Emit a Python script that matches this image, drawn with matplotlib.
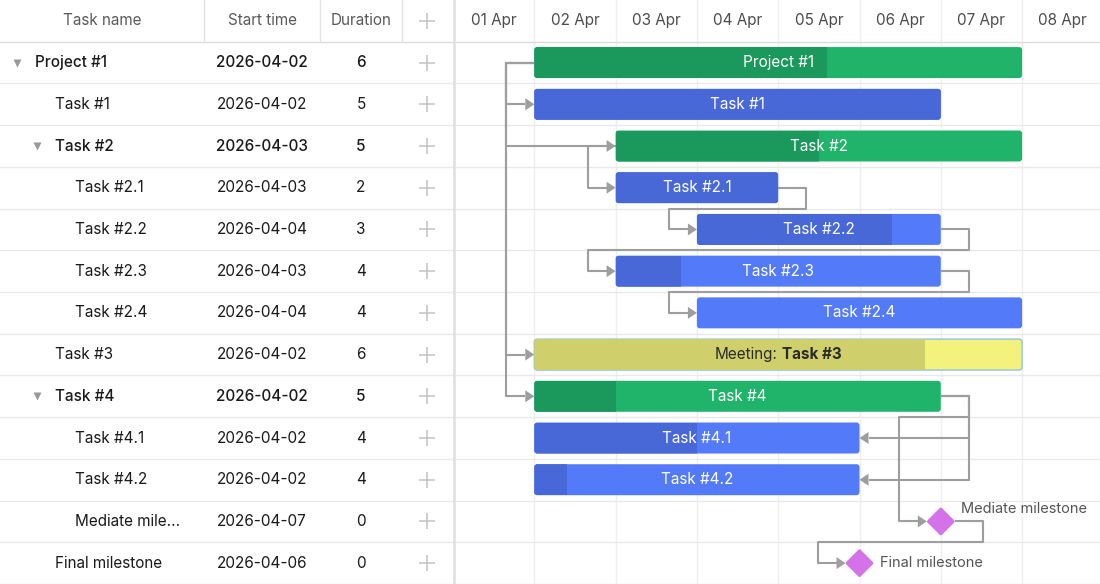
import numpy as np
import matplotlib.pyplot as plt
from matplotlib.patches import FancyBboxPatch, Polygon, Rectangle
from matplotlib.offsetbox import TextArea, HPacker, AnnotationBbox

plt.rcParams['font.family'] = ['Inter', 'DejaVu Sans']

# datos da tabela / gantt
task_names = ['Project #1', 'Task #1', 'Task #2', 'Task #2.1', 'Task #2.2', 'Task #2.3',
              'Task #2.4', 'Task #3', 'Task #4', 'Task #4.1', 'Task #4.2',
              'Mediate milestone', 'Final milestone']
levels = [0, 1, 1, 2, 2, 2, 2, 1, 1, 2, 2, 2, 1]
start_dates = ['2026-04-02', '2026-04-02', '2026-04-03', '2026-04-03', '2026-04-04',
               '2026-04-03', '2026-04-04', '2026-04-02', '2026-04-02', '2026-04-02',
               '2026-04-02', '2026-04-07', '2026-04-06']
durations = [6, 5, 5, 2, 3, 4, 4, 6, 5, 4, 4, 0, 0]
progress = [0.6, 1.0, 0.5, 1.0, 0.8, 0.2, 0.0, 0.8, 0.2, 0.5, 0.1, 0.0, 0.0]
task_types = ['project', 'task', 'project', 'task', 'task', 'task', 'task',
              'meeting', 'project', 'task', 'task', 'milestone', 'milestone']
# (origem, destino, tipo)  ss = start-start, fs = finish-start, ff = finish-finish
links = [(0, 1, 'ss'), (0, 2, 'ss'), (0, 7, 'ss'), (0, 8, 'ss'), (2, 3, 'ss'),
         (3, 4, 'fs'), (4, 5, 'fs'), (5, 6, 'fs'),
         (8, 9, 'ff'), (8, 10, 'ff'), (8, 11, 'fs'), (11, 12, 'fs')]
day_labels = ['01 Apr', '02 Apr', '03 Apr', '04 Apr', '05 Apr', '06 Apr', '07 Apr', '08 Apr']
grid_columns = ['Task name', 'Start time', 'Duration', '+']

# cores
cores = {'project': ('#20b46b', '#1b985b'),
         'task': ('#537bf9', '#4768d6'),
         'meeting': ('#f2f27c', '#cfd06c')}
cor_link = '#9e9e9e'
cor_grade = '#e9e9e9'
cor_milestone = '#d472ea'
cor_mais = '#c2c2c2'

W, H = 1100, 584
GRID_W = 453
n_rows = len(task_names)
day_px = 81.3
px_x = 1 / day_px            # dias por pixel
px_y = (n_rows + 1) / H      # linhas por pixel

fig = plt.figure(figsize=(W / 100, H / 100), dpi=100)
ax_g = fig.add_axes([0, 0, GRID_W / W, 1])
ax_t = fig.add_axes([GRID_W / W, 0, 1 - GRID_W / W, 1])
ax_g.set_xlim(0, GRID_W)
ax_t.set_xlim(0, (W - GRID_W) / day_px)
for a in (ax_g, ax_t):
    a.set_ylim(n_rows, -1)
    a.axis('off')

origem = np.datetime64('2026-04-01')
x0 = (np.array(start_dates, dtype='datetime64[D]') - origem).astype(float)
dur = np.array(durations, dtype=float)

# ---------------- grade / linhas ----------------
for r in range(n_rows + 1):
    ax_g.axhline(r, color='#dcdcdc' if r == 0 else cor_grade, lw=1, zorder=1)
    ax_t.axhline(r, color='#dcdcdc' if r == 0 else cor_grade, lw=1, zorder=1)
for d in range(1, len(day_labels)):
    ax_t.axvline(d, color='#efefef', lw=1, zorder=0)
ax_t.axvline(0.01, color='#e2e2e2', lw=2, zorder=1)

# cabeçalho da tabela
col_centros = [102, 262, 361, 427]
for xb in [204, 320, 402]:
    ax_g.plot([xb, xb], [-1, 0], color='#e2e2e2', lw=1)
for c, txt in zip(col_centros, grid_columns):
    if txt == '+':
        ax_g.plot(c, -0.5, marker='+', ms=12, mew=1.1, color=cor_mais)
    else:
        ax_g.text(c, -0.5, txt, ha='center', va='center', fontsize=11, color='#5a5a5a')

# cabeçalho das datas
for d, lab in enumerate(day_labels):
    ax_t.text(d + 0.5, -0.5, lab, ha='center', va='center', fontsize=11, color='#4d4d4d')

# linhas da tabela
for i, nome in enumerate(task_names):
    y = i + 0.5
    pai = task_types[i] == 'project'
    peso = 'medium' if pai else 'normal'
    limite = 19 - 2 * levels[i]
    if len(nome) > limite:
        nome = nome[:limite - 3] + '...'
    xt = 35 + 20 * levels[i]
    if pai:
        ax_g.plot(17 + 20 * levels[i], y, marker='v', ms=6, color='#9a9a9a', mec='none')
    ax_g.text(xt, y, nome, ha='left', va='center', fontsize=11, color='#1a1a1a', weight=peso)
    ax_g.text(262, y, start_dates[i], ha='center', va='center', fontsize=11, color='#1a1a1a', weight=peso)
    ax_g.text(361, y, str(durations[i]), ha='center', va='center', fontsize=11, color='#1a1a1a', weight=peso)
    ax_g.plot(427, y, marker='+', ms=12, mew=1.1, color=cor_mais)

# ---------------- barras ----------------
bh = 31 * px_y
ms_half = 14


def inicio(i):
    if task_types[i] == 'milestone':
        return x0[i] - ms_half * px_x
    return x0[i]


def fim(i):
    if task_types[i] == 'milestone':
        return x0[i] + ms_half * px_x
    return x0[i] + dur[i]


for i in range(n_rows):
    y = i + 0.5
    if task_types[i] == 'milestone':
        hx, hy = 12.5 * px_x, 12.5 * px_y
        dia = Polygon([(x0[i] - hx, y), (x0[i], y - hy), (x0[i] + hx, y), (x0[i], y + hy)],
                      closed=True, fc=cor_milestone, ec=cor_milestone, lw=2, joinstyle='round', zorder=4)
        ax_t.add_patch(dia)
        dy = -12 * px_y if task_names[i].startswith('Mediate') else 0
        ax_t.text(fim(i) + 6 * px_x, y + dy, task_names[i], ha='left', va='center',
                  fontsize=10.5, color='#555555', zorder=5)
        continue
    claro, escuro = cores[task_types[i]]
    borda = '#8fc3e8' if task_types[i] == 'meeting' else 'none'
    caixa = FancyBboxPatch((x0[i], y - bh / 2), dur[i], bh,
                           boxstyle=f'round,pad=0,rounding_size={3 * px_x}',
                           mutation_aspect=px_y / px_x, fc=claro, ec=borda, lw=1, zorder=3)
    ax_t.add_patch(caixa)
    if progress[i] > 0:
        prog = Rectangle((x0[i], y - bh / 2), dur[i] * progress[i], bh, fc=escuro, ec='none', zorder=3)
        prog.set_clip_path(caixa)
        ax_t.add_patch(prog)
    xc = x0[i] + dur[i] / 2
    if task_types[i] == 'meeting':
        caixa_txt = HPacker(children=[
            TextArea('Meeting:', textprops=dict(fontsize=11, color='#2b2b2b')),
            TextArea(task_names[i], textprops=dict(fontsize=11, color='#2b2b2b', weight='bold'))],
            sep=3, pad=0, align='center')
        ab = AnnotationBbox(caixa_txt, (xc, y), frameon=False, box_alignment=(0.5, 0.5), zorder=5)
        ax_t.add_artist(ab)
    else:
        ax_t.text(xc, y, task_names[i], ha='center', va='center', fontsize=11, color='white', zorder=5)

# ---------------- ligações ----------------
off = 28 * px_x
seta_l = 9 * px_x
seta_h = 6 * px_y

for s, t, tipo in links:
    ys, yt = s + 0.5, t + 0.5
    if tipo == 'ss':
        xs = inicio(s)
        xv = xs - off
        pts = [(xs, ys), (xv, ys), (xv, yt), (inicio(t), yt)]
        direc = 1
    elif tipo == 'fs':
        xe = fim(s)
        xv2 = inicio(t) - off
        pts = [(xe, ys), (xe + off, ys), (xe + off, s + 1), (xv2, s + 1), (xv2, yt), (inicio(t), yt)]
        direc = 1
    else:
        xe = fim(s)
        pts = [(xe, ys), (xe + off, ys), (xe + off, yt), (fim(t), yt)]
        direc = -1
    xp = [p[0] for p in pts]
    yp = [p[1] for p in pts]
    tip = xp[-1]
    xp[-1] = tip - direc * seta_l
    ax_t.plot(xp, yp, color=cor_link, lw=1.5, solid_joinstyle='round', solid_capstyle='butt', zorder=2)
    ax_t.add_patch(Polygon([(tip, yt), (tip - direc * seta_l, yt - seta_h), (tip - direc * seta_l, yt + seta_h)],
                           closed=True, fc=cor_link, ec='none', zorder=2))

fig.savefig('out.png', dpi=100)
